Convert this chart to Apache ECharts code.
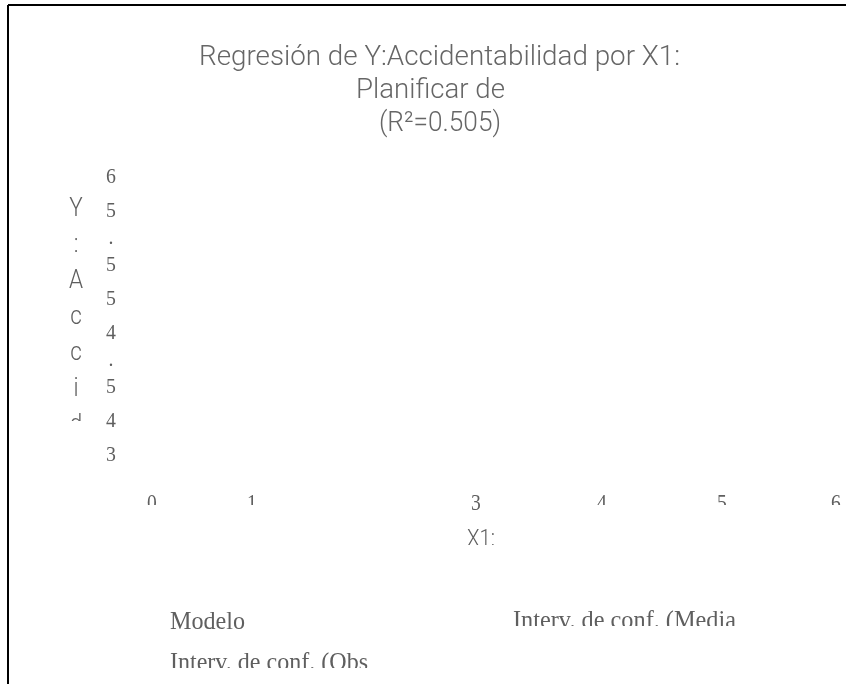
<!DOCTYPE html>
<html><head><meta charset="utf-8">
<script src="https://cdn.jsdelivr.net/npm/echarts@6/dist/echarts.min.js"></script>
<style>html,body{margin:0;padding:0;background:#fff}#c{width:846px;height:684px}</style>
</head><body><div id="c"></div>
<script>
// ---- content ----
const titleLines = ['Regresión de Y:Accidentabilidad por X1:', 'Planificar de', '(R²=0.505)'];
const yAxisName = 'Y:Accidentabilidad';
const yTickLabels = ['6', '5.5', '5', '4.5', '4', '3'];
const xTickLabels = ['0', '1', '3', '4', '5', '6'];
const xAxisName = 'X1:';
const legendLabels = ['Modelo', 'Interv. de conf. (Media', 'Interv. de conf. (Obs'];

// ---- styling / layout ----
const SANS = 'Roboto';
const SERIF = '"Liberation Serif", "DejaVu Serif", serif';
const GREY = '#5f5f5f';
const measureCtx = document.createElement('canvas').getContext('2d');
function measure(text, size, family, weight) {
  measureCtx.font = weight + ' ' + size + 'px ' + family;
  return measureCtx.measureText(text).width;
}
function fitText(text, left, right, cy, size, family, weight, fill) {
  const w = measure(text, size, family, weight);
  return {
    type: 'text', x: left, y: cy, scaleX: (right - left) / w, z: 10,
    style: { text: text, fontSize: size, fontFamily: family, fontWeight: weight, fill: fill,
      textAlign: 'left', textVerticalAlign: 'middle', align: 'left', verticalAlign: 'middle' }
  };
}
function centerText(text, cx, cy, size, family, weight, fill, sx) {
  return {
    type: 'text', x: cx, y: cy, scaleX: sx || 1, z: 10,
    style: { text: text, fontSize: size, fontFamily: family, fontWeight: weight, fill: fill,
      textAlign: 'center', textVerticalAlign: 'middle', align: 'center', verticalAlign: 'middle' }
  };
}
function mask(x, y, w, h) {
  return { type: 'rect', shape: { x: x, y: y, width: w, height: h }, style: { fill: '#ffffff' }, z: 20 };
}

const g = [];
// frame
g.push({ type: 'line', shape: { x1: 8, y1: 5, x2: 846, y2: 5 }, style: { stroke: '#000', lineWidth: 2 }, z: 30 });
g.push({ type: 'line', shape: { x1: 8, y1: 5, x2: 8, y2: 684 }, style: { stroke: '#000', lineWidth: 2 }, z: 30 });

// title
const titleBoxes = [[199, 680, 58], [356, 505, 91], [379, 501, 124]];
titleLines.forEach(function (t, i) {
  const b = titleBoxes[i];
  g.push(fitText(t, b[0], b[1], b[2], 28, SANS, 300, '#666666'));
});

// y-axis name, one character per line, clipped
const yNameChars = yAxisName.split('');
for (let i = 0; i < 7; i++) {
  g.push(centerText(yNameChars[i], 76, 210 + 36 * i, 25, SANS, 300, GREY, 0.9));
}
g.push(mask(50, 421, 45, 30));

// y tick labels, characters stacked
let yy = 177;
yTickLabels.forEach(function (lab) {
  lab.split('').forEach(function (ch) {
    g.push(centerText(ch, 111, yy, 22, SERIF, 400, GREY, 0.9));
    yy += 27;
  });
  yy += 7;
});

// x tick labels
const xTickX = [152, 252, 476, 602, 722, 836];
xTickLabels.forEach(function (lab, i) {
  g.push(centerText(lab, xTickX[i], 504, 23, SERIF, 400, GREY, 0.85));
  if (lab !== '3') g.push(mask(xTickX[i] - 12, 505, 24, 20));
});

// x axis name
g.push(centerText(xAxisName, 481, 540, 24, SANS, 300, GREY, 0.85));
g.push(mask(455, 545, 60, 20));

// legend
g.push(fitText(legendLabels[0], 170, 245, 622, 26, SERIF, 400, GREY));
g.push(fitText(legendLabels[1], 513, 736, 621, 26, SERIF, 400, GREY));
g.push(mask(505, 626, 250, 20));
g.push(fitText(legendLabels[2], 170, 368, 663, 26, SERIF, 400, GREY));
g.push(mask(150, 668, 240, 20));

const chart = echarts.init(document.getElementById('c'), null, { renderer: 'canvas' });
chart.setOption({
  backgroundColor: '#ffffff',
  animation: false,
  graphic: { elements: g }
});
</script>
</body></html>
